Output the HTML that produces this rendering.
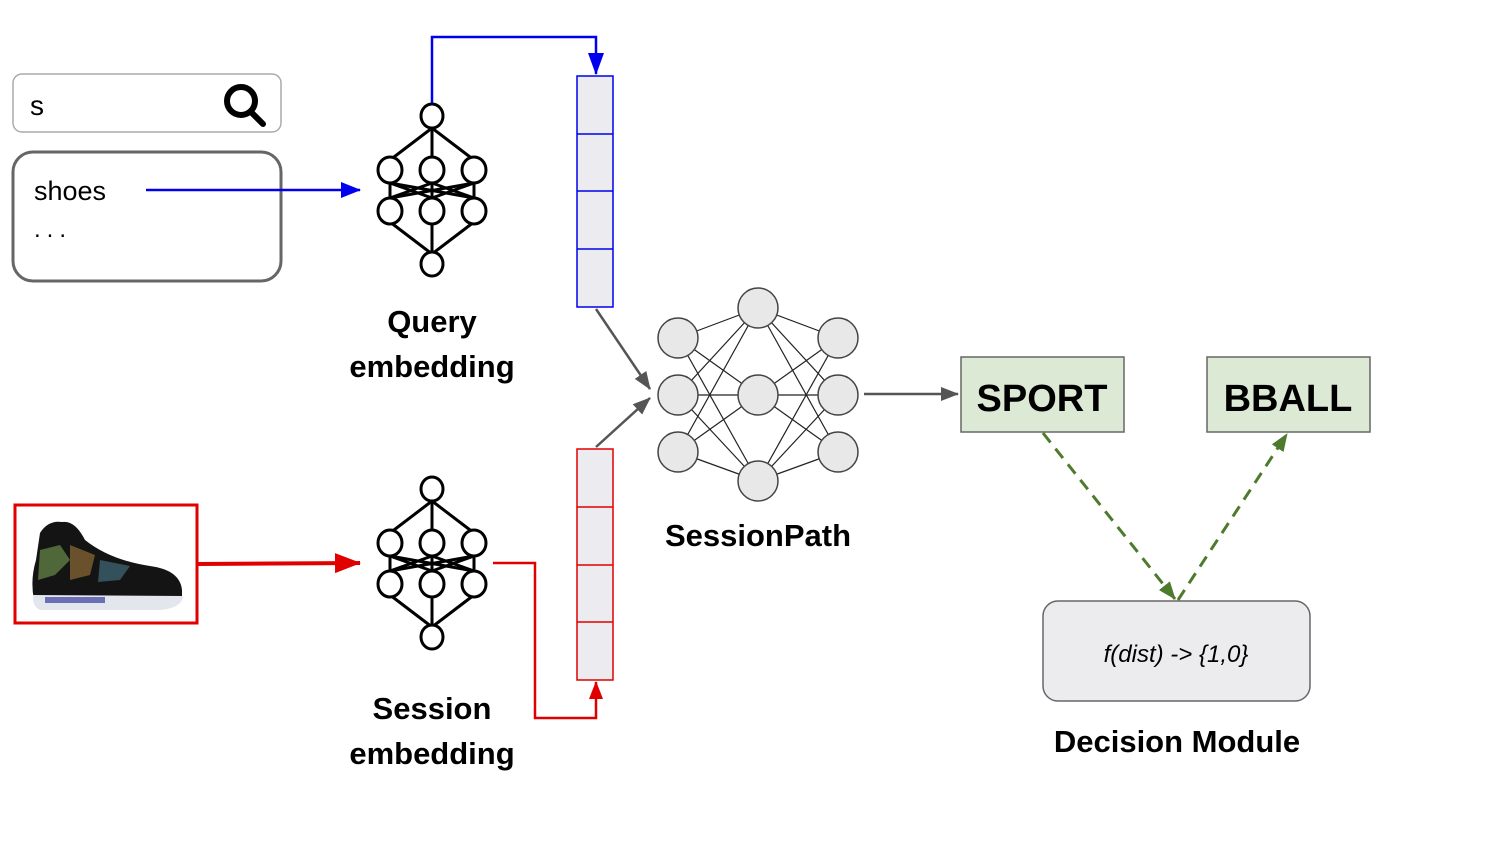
<!DOCTYPE html>
<html><head><meta charset="utf-8"><style>html,body{margin:0;padding:0;background:#fff}svg{display:block}</style></head>
<body>
<svg width="1500" height="843" viewBox="0 0 1500 843" xmlns="http://www.w3.org/2000/svg" font-family="Liberation Sans, sans-serif">
<defs>
<marker id="ab" markerWidth="16" markerHeight="22" refX="8" refY="21" orient="0" markerUnits="userSpaceOnUse"><path d="M0,0 L16,0 L8,22z" fill="#0000ee"/></marker>
<marker id="abl" markerWidth="20" markerHeight="16" refX="19" refY="8" orient="auto" markerUnits="userSpaceOnUse"><path d="M0,0 L20,8 L0,16z" fill="#0000ee"/></marker>
<marker id="ar" markerWidth="26" markerHeight="20" refX="25" refY="10" orient="auto" markerUnits="userSpaceOnUse"><path d="M0,0 L26,10 L0,20z" fill="#e00000"/></marker>
<marker id="ars" markerWidth="18" markerHeight="14" refX="17" refY="7" orient="auto" markerUnits="userSpaceOnUse"><path d="M0,0 L18,7 L0,14z" fill="#e00000"/></marker>
<marker id="ag" markerWidth="18" markerHeight="14" refX="17" refY="7" orient="auto" markerUnits="userSpaceOnUse"><path d="M0,0 L18,7 L0,14z" fill="#555"/></marker>
<marker id="agr" markerWidth="18" markerHeight="14" refX="17" refY="7" orient="auto" markerUnits="userSpaceOnUse"><path d="M0,0 L18,7 L0,14z" fill="#4e7a2c"/></marker>
</defs>

<rect x="13" y="74" width="268" height="58" rx="9" fill="#fff" stroke="#aaa" stroke-width="1.5"/>
<text x="30" y="115" font-size="28" fill="#000">s</text>
<circle cx="241" cy="101" r="14" fill="none" stroke="#000" stroke-width="6"/>
<line x1="251" y1="112" x2="263" y2="124" stroke="#000" stroke-width="6" stroke-linecap="round"/>

<rect x="13" y="152" width="268" height="129" rx="20" fill="#fff" stroke="#666" stroke-width="3"/>
<text x="34" y="200" font-size="27" fill="#000">shoes</text>
<text x="34" y="237" font-size="24" fill="#000" letter-spacing="6">...</text>
<line x1="146" y1="190" x2="360" y2="190" stroke="#0000ee" stroke-width="2.5" marker-end="url(#abl)"/>

<g id="nn" fill="#fff" stroke="#000" stroke-width="3">
<g fill="none">
<line x1="432" y1="128" x2="390" y2="160"/><line x1="432" y1="128" x2="432" y2="158"/><line x1="432" y1="128" x2="474" y2="160"/>
<line x1="390" y1="182" x2="390" y2="200"/><line x1="474" y1="182" x2="474" y2="200"/><line x1="432" y1="182" x2="432" y2="200"/>
<line x1="390" y1="183" x2="474" y2="198"/><line x1="474" y1="183" x2="390" y2="198"/>
<line x1="390" y1="183" x2="432" y2="198"/><line x1="474" y1="183" x2="432" y2="198"/>
<line x1="432" y1="183" x2="390" y2="198"/><line x1="432" y1="183" x2="474" y2="198"/>
<line x1="390" y1="222" x2="432" y2="254"/><line x1="432" y1="224" x2="432" y2="252"/><line x1="474" y1="222" x2="432" y2="254"/>
</g>
<ellipse cx="432" cy="116" rx="11" ry="12"/>
<ellipse cx="390" cy="170" rx="12" ry="13"/><ellipse cx="432" cy="170" rx="12" ry="13"/><ellipse cx="474" cy="170" rx="12" ry="13"/>
<ellipse cx="390" cy="211" rx="12" ry="13"/><ellipse cx="432" cy="211" rx="12" ry="13"/><ellipse cx="474" cy="211" rx="12" ry="13"/>
<ellipse cx="432" cy="264" rx="11" ry="12"/>
</g>
<use href="#nn" transform="translate(0,373)"/>

<polyline points="432,103 432,37 596,37 596,74" fill="none" stroke="#0000ee" stroke-width="2.5" marker-end="url(#ab)"/>

<rect x="577" y="76" width="36" height="231" fill="#ececf0" stroke="#0000ee" stroke-width="1.5"/>
<line x1="577" y1="134" x2="613" y2="134" stroke="#0000ee" stroke-width="1.5"/>
<line x1="577" y1="191" x2="613" y2="191" stroke="#0000ee" stroke-width="1.5"/>
<line x1="577" y1="249" x2="613" y2="249" stroke="#0000ee" stroke-width="1.5"/>

<rect x="577" y="449" width="36" height="231" fill="#ececf0" stroke="#e00000" stroke-width="1.5"/>
<line x1="577" y1="507" x2="613" y2="507" stroke="#e00000" stroke-width="1.5"/>
<line x1="577" y1="565" x2="613" y2="565" stroke="#e00000" stroke-width="1.5"/>
<line x1="577" y1="622" x2="613" y2="622" stroke="#e00000" stroke-width="1.5"/>

<rect x="15" y="505" width="182" height="118" fill="#fff" stroke="#e00000" stroke-width="3"/>
<path d="M40,533 Q48,520 62,522 Q75,520 85,540 Q110,560 150,566 Q180,570 182,590 L182,598 L34,600 Q30,580 36,560 Z" fill="#141414"/>
<path d="M40,550 L60,545 L70,560 L55,575 L38,580Z" fill="#6a8a4a" opacity="0.7"/>
<path d="M70,545 L95,555 L90,575 L70,580Z" fill="#a07a3a" opacity="0.6"/>
<path d="M100,560 L130,566 L120,580 L98,582Z" fill="#4a7a8a" opacity="0.6"/>
<path d="M33,595 L183,596 Q182,608 160,610 L40,610 Q32,606 33,595Z" fill="#e4e6ee"/>
<rect x="45" y="597" width="60" height="6" fill="#6b6fb4"/>

<line x1="197" y1="564" x2="360" y2="563" stroke="#e00000" stroke-width="4" marker-end="url(#ar)"/>
<polyline points="493,563 535,563 535,718 596,718 596,682" fill="none" stroke="#e00000" stroke-width="2.5" marker-end="url(#ars)"/>

<line x1="596" y1="309" x2="650" y2="389" stroke="#555" stroke-width="2.5" marker-end="url(#ag)"/>
<line x1="596" y1="447" x2="650" y2="398" stroke="#555" stroke-width="2.5" marker-end="url(#ag)"/>

<g stroke="#222" stroke-width="1.2">
<line x1="678" y1="338" x2="758" y2="308"/><line x1="678" y1="338" x2="758" y2="395"/><line x1="678" y1="338" x2="758" y2="481"/>
<line x1="678" y1="395" x2="758" y2="308"/><line x1="678" y1="395" x2="758" y2="395"/><line x1="678" y1="395" x2="758" y2="481"/>
<line x1="678" y1="452" x2="758" y2="308"/><line x1="678" y1="452" x2="758" y2="395"/><line x1="678" y1="452" x2="758" y2="481"/>
<line x1="838" y1="338" x2="758" y2="308"/><line x1="838" y1="338" x2="758" y2="395"/><line x1="838" y1="338" x2="758" y2="481"/>
<line x1="838" y1="395" x2="758" y2="308"/><line x1="838" y1="395" x2="758" y2="395"/><line x1="838" y1="395" x2="758" y2="481"/>
<line x1="838" y1="452" x2="758" y2="308"/><line x1="838" y1="452" x2="758" y2="395"/><line x1="838" y1="452" x2="758" y2="481"/>
</g>
<g fill="#e8e8e8" stroke="#444" stroke-width="1.5">
<circle cx="678" cy="338" r="20"/><circle cx="678" cy="395" r="20"/><circle cx="678" cy="452" r="20"/>
<circle cx="758" cy="308" r="20"/><circle cx="758" cy="395" r="20"/><circle cx="758" cy="481" r="20"/>
<circle cx="838" cy="338" r="20"/><circle cx="838" cy="395" r="20"/><circle cx="838" cy="452" r="20"/>
</g>
<line x1="864" y1="394" x2="958" y2="394" stroke="#555" stroke-width="2.5" marker-end="url(#ag)"/>

<g font-weight="bold" font-size="31" text-anchor="middle" fill="#000">
<text x="432" y="332">Query</text>
<text x="432" y="377">embedding</text>
<text x="432" y="719">Session</text>
<text x="432" y="764">embedding</text>
<text x="758" y="546">SessionPath</text>
<text x="1177" y="752">Decision Module</text>
</g>

<rect x="961" y="357" width="163" height="75" fill="#dce9d4" stroke="#666" stroke-width="1.5"/>
<rect x="1207" y="357" width="163" height="75" fill="#dce9d4" stroke="#666" stroke-width="1.5"/>
<text x="1042" y="411" font-size="38" font-weight="bold" text-anchor="middle">SPORT</text>
<text x="1288" y="411" font-size="38" font-weight="bold" text-anchor="middle">BBALL</text>

<line x1="1043" y1="433" x2="1175" y2="599" stroke="#4e7a2c" stroke-width="3" stroke-dasharray="12,8" marker-end="url(#agr)"/>
<line x1="1178" y1="600" x2="1287" y2="434" stroke="#4e7a2c" stroke-width="3" stroke-dasharray="12,8" marker-end="url(#agr)"/>

<rect x="1043" y="601" width="267" height="100" rx="15" fill="#ececee" stroke="#666" stroke-width="1.5"/>
<text x="1176" y="662" font-size="24" font-style="italic" text-anchor="middle">f(dist) -&gt; {1,0}</text>
</svg>
</body></html>
